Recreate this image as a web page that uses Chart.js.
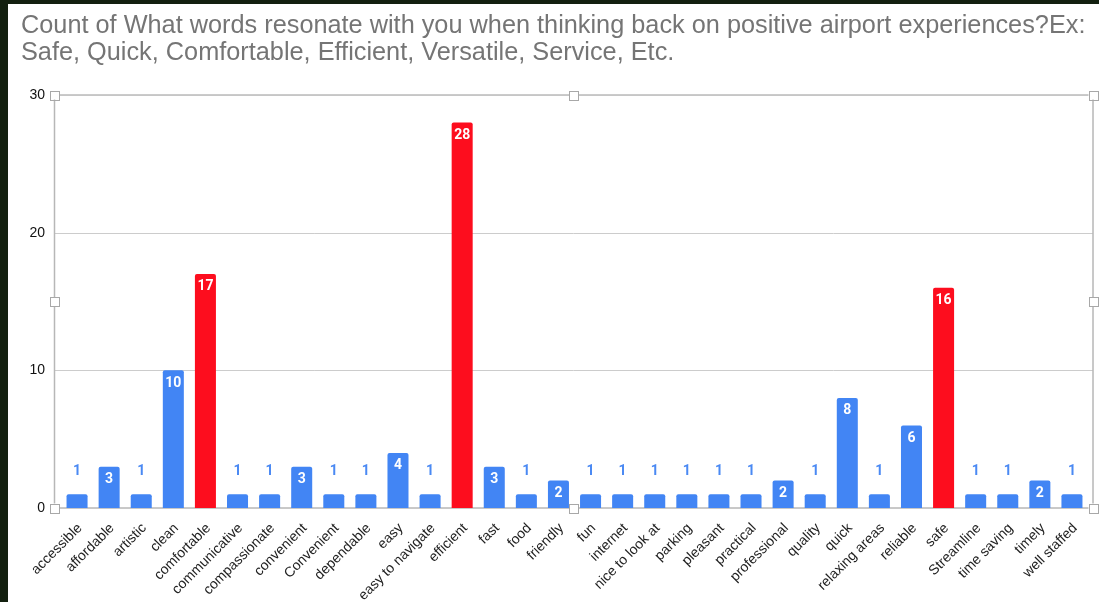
<!DOCTYPE html>
<html>
<head>
<meta charset="utf-8">
<script src="https://cdn.jsdelivr.net/npm/chart.js@4"></script>
<style>
  html, body { margin: 0; padding: 0; background: #13200f; overflow: hidden; }
  #wrap { position: absolute; left: 8px; top: 4px; width: 1091px; height: 598px; background: #fff; }
</style>
</head>
<body>
<div id="wrap"><canvas id="chart" width="1091" height="598"></canvas></div>
<script>
// data
const categories = ['accessible', 'affordable', 'artistic', 'clean', 'comfortable', 'communicative',
  'compassionate', 'convenient', 'Convenient', 'dependable', 'easy', 'easy to navigate', 'efficient',
  'fast', 'food', 'friendly', 'fun', 'internet', 'nice to look at', 'parking', 'pleasant', 'practical',
  'professional', 'quality', 'quick', 'relaxing areas', 'reliable', 'safe', 'Streamline', 'time saving',
  'timely', 'well staffed'];
const counts = [1, 3, 1, 10, 17, 1, 1, 3, 1, 1, 4, 1, 28, 3, 1, 2, 1, 1, 1, 1, 1, 1, 2, 1, 8, 1, 6, 16, 1, 1, 2, 1];
const highlighted = ['comfortable', 'efficient', 'safe'];
const yTicks = [0, 10, 20, 30];
const titleLines = [
  'Count of What words resonate with you when thinking back on positive airport experiences?Ex:',
  'Safe, Quick, Comfortable, Efficient, Versatile, Service, Etc.'
];

const BLUE = '#4285f4';
const RED = '#fd0d1e';
const barColors = categories.map(c => highlighted.includes(c) ? RED : BLUE);

// frame, grid lines and the little selection handles (Sheets look)
const framePlugin = {
  id: 'frame',
  beforeDatasetsDraw(chart) {
    const { ctx, chartArea, scales } = chart;
    const l = chartArea.left - 6.5, r = chartArea.right + 5;
    const t = scales.y.getPixelForValue(30), b = scales.y.getPixelForValue(0);
    ctx.save();
    ctx.strokeStyle = '#cccccc';
    ctx.lineWidth = 1;
    yTicks.slice(1, -1).forEach(v => {
      const y = Math.round(scales.y.getPixelForValue(v)) + 0.5;
      ctx.beginPath(); ctx.moveTo(l, y); ctx.lineTo(r, y); ctx.stroke();
    });
    ctx.strokeStyle = '#b7b7b7';
    ctx.lineWidth = 1.5;
    ctx.strokeRect(l, t, r - l, b - t);
    ctx.restore();
  },
  afterDraw(chart) {
    const { ctx, chartArea, scales } = chart;
    const l = chartArea.left - 6.5, r = chartArea.right + 5;
    const t = scales.y.getPixelForValue(30), b = scales.y.getPixelForValue(0);
    const mx = (l + r) / 2, my = (t + b) / 2;
    const pts = [[l, t], [mx, t], [r, t], [l, my], [r, my], [l, b], [mx, b], [r, b]];
    ctx.save();
    ctx.fillStyle = '#fff';
    ctx.strokeStyle = '#a8a8a8';
    ctx.lineWidth = 1;
    pts.forEach(([x, y]) => {
      ctx.fillRect(x - 4.5, y - 4.5, 9, 9);
      ctx.strokeRect(Math.round(x - 4.5) + 0.5, Math.round(y - 4.5) + 0.5, 9, 9);
    });
    ctx.restore();
  }
};

// value labels: inside the bar when it is tall enough, above it otherwise
const valueLabels = {
  id: 'valueLabels',
  afterDatasetsDraw(chart) {
    const { ctx } = chart;
    const meta = chart.getDatasetMeta(0);
    ctx.save();
    ctx.font = 'bold 14px Roboto, Arial, sans-serif';
    ctx.textAlign = 'center';
    ctx.textBaseline = 'middle';
    meta.data.forEach((bar, i) => {
      const v = counts[i];
      if (v >= 2) {
        ctx.fillStyle = '#ffffff';
        ctx.fillText(v, bar.x, bar.y + 13);
      } else {
        ctx.fillStyle = '#4a89f3';
        ctx.fillText(v, bar.x, bar.y - 23);
      }
    });
    ctx.restore();
  }
};

new Chart(document.getElementById('chart'), {
  type: 'bar',
  data: {
    labels: categories,
    datasets: [{
      data: counts,
      backgroundColor: barColors,
      borderRadius: { topLeft: 2, topRight: 2 },
      borderSkipped: false,
      categoryPercentage: 1,
      barPercentage: 0.655
    }]
  },
  options: {
    responsive: false,
    animation: false,
    devicePixelRatio: 1,
    layout: { padding: { left: 13, right: 11, top: 0, bottom: 0 } },
    plugins: {
      legend: { display: false },
      tooltip: { enabled: false },
      title: {
        display: true,
        text: titleLines,
        align: 'start',
        color: '#757575',
        font: { family: '"Liberation Sans", Arial, sans-serif', size: 25.3, weight: 'normal', lineHeight: 1.06 },
        padding: { top: 8.4, bottom: 29 }
      }
    },
    scales: {
      x: {
        grid: { display: false },
        border: { display: false },
        ticks: {
          autoSkip: false,
          maxRotation: 45,
          minRotation: 45,
          padding: 4,
          labelOffset: 3,
          color: '#222',
          font: { family: '"Liberation Sans", Arial, sans-serif', size: 14 }
        },
        afterFit(scale) { scale.height = 94; }
      },
      y: {
        min: 0,
        max: 30,
        grid: { display: false, drawTicks: false },
        border: { display: false },
        ticks: {
          stepSize: 10,
          padding: 16,
          color: '#111',
          font: { family: '"Liberation Sans", Arial, sans-serif', size: 14 }
        },
        afterBuildTicks(scale) { scale.ticks = yTicks.map(v => ({ value: v })); },
        afterFit(scale) { scale.width = 40; }
      }
    }
  },
  plugins: [framePlugin, valueLabels]
});
</script>
</body>
</html>
